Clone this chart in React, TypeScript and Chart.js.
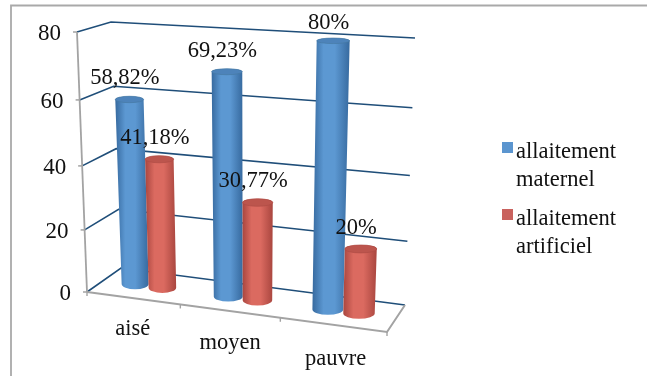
import { useEffect, useRef } from "react";
import { Chart, registerables } from "chart.js";

Chart.register(...registerables);

const categories = ["aisé", "moyen", "pauvre"];
const maternel = [58.82, 69.23, 80];
const artificiel = [41.18, 30.77, 20];
const seriesNames = ["allaitement maternel", "allaitement artificiel"];
const yTicks = [0, 20, 40, 60, 80];

const SERIF = '"Liberation Serif", serif';
const FONT = `22.5px ${SERIF}`;
const TICK_FONT = `23px ${SERIF}`;
const TEXT = "#111111";
const AXIS = "#a3a3a3";
const GRID = "#1f4e79";

type Pt = [number, number];

// Corners of the 3D box: floor and top, front (depth 0) and back (depth 1).
const FLOOR_FRONT: [Pt, Pt] = [[87, 292], [387, 332]];
const FLOOR_BACK: [Pt, Pt] = [[121, 268], [405, 305]];
const TOP_FRONT: [Pt, Pt] = [[77, 32], [397, 52]];
const TOP_BACK: [Pt, Pt] = [[111, 22], [415, 38]];

const mix = (a: Pt, b: Pt, t: number): Pt => [a[0] + (b[0] - a[0]) * t, a[1] + (b[1] - a[1]) * t];

// Maps a pixel from the flat Chart.js scales onto the box in perspective.
function project(chart: Chart, px: number, py: number, depth: number): Pt {
  const { left, right, top, bottom } = chart.chartArea;
  const u0 = (px - left) / (right - left);
  const v0 = (bottom - py) / (bottom - top);
  const u = u0 - 0.1 * u0 * (1 - u0);
  const v = v0 * (1 - 0.06 * (1 - v0));
  const floor = mix(mix(FLOOR_FRONT[0], FLOOR_FRONT[1], u), mix(FLOOR_BACK[0], FLOOR_BACK[1], u), depth);
  const roof = mix(mix(TOP_FRONT[0], TOP_FRONT[1], u), mix(TOP_BACK[0], TOP_BACK[1], u), depth);
  return mix(floor, roof, v);
}

function line(ctx: CanvasRenderingContext2D, pts: Pt[], color: string, width: number) {
  ctx.beginPath();
  pts.forEach((p, i) => (i ? ctx.lineTo(p[0], p[1]) : ctx.moveTo(p[0], p[1])));
  ctx.strokeStyle = color;
  ctx.lineWidth = width;
  ctx.stroke();
}

const PALETTES = [
  { edge: "#376a9f", mid: "#5c98d2", cap: "#4d83ba", rim: "#44779f", square: "#5b95cf" },
  { edge: "#a9463f", mid: "#db6a60", cap: "#bc554d", rim: "#ab4a43", square: "#c9625e" },
];

function drawCylinder(
  chart: Chart,
  el: { x: number; y: number; base: number; width: number },
  pal: (typeof PALETTES)[number],
) {
  const ctx = chart.ctx;
  const half = el.width / 2;
  const bl = project(chart, el.x - half, el.base, 0.5);
  const br = project(chart, el.x + half, el.base, 0.5);
  const tl = project(chart, el.x - half, el.y, 0.5);
  const tr = project(chart, el.x + half, el.y, 0.5);
  const bc = mix(bl, br, 0.5);
  const tc = mix(tl, tr, 0.5);
  const { top, bottom } = chart.chartArea;
  const capRy = 2.8 + (1.6 * (el.y - top)) / (bottom - top);
  const baseRy = 5.2;
  const bx = (br[0] - bl[0]) / 2;
  const tx = (tr[0] - tl[0]) / 2;

  const body = ctx.createLinearGradient(Math.min(bl[0], tl[0]), 0, Math.max(br[0], tr[0]), 0);
  body.addColorStop(0, pal.edge);
  body.addColorStop(0.3, pal.mid);
  body.addColorStop(0.6, pal.mid);
  body.addColorStop(1, pal.edge);

  ctx.beginPath();
  ctx.moveTo(tl[0], tc[1]);
  ctx.lineTo(bl[0], bc[1]);
  ctx.ellipse(bc[0], bc[1], bx, baseRy, 0, Math.PI, 0, true);
  ctx.lineTo(tr[0], tc[1]);
  ctx.ellipse(tc[0], tc[1], tx, capRy, 0, 0, Math.PI, true);
  ctx.closePath();
  ctx.fillStyle = body;
  ctx.fill();

  ctx.beginPath();
  ctx.ellipse(tc[0], tc[1], tx, capRy, 0, 0, Math.PI * 2);
  ctx.fillStyle = pal.cap;
  ctx.fill();
  ctx.strokeStyle = pal.rim;
  ctx.lineWidth = 0.6;
  ctx.stroke();
}

const perspectivePlugin = {
  id: "perspective",
  beforeDatasetsDraw(chart: Chart) {
    const ctx = chart.ctx;
    const y = chart.scales.y;
    const x = chart.scales.x;
    const { left, right, bottom } = chart.chartArea;
    ctx.save();
    ctx.lineCap = "butt";

    // Outer frame along the top and left
    line(ctx, [[11, 376], [11, 5.5], [647, 5.5]], "#a9a9a9", 1.8);

    // Gridlines across the side and back walls, with axis ticks and labels
    yTicks.forEach((t) => {
      const py = y.getPixelForValue(t);
      const a = project(chart, left, py, 0);
      const b = project(chart, left, py, 1);
      const c = project(chart, right, py, 1);
      line(ctx, [a, b, c], GRID, 1.6);
      line(ctx, [[a[0] - 4, a[1]], a], AXIS, 1.5);
      ctx.fillStyle = TEXT;
      ctx.font = TICK_FONT;
      ctx.textAlign = "right";
      ctx.textBaseline = "middle";
      ctx.fillText(String(t), a[0] - 16, a[1] + 2);
    });

    // Value axis and the front and right edges of the floor
    line(ctx, [project(chart, left, y.getPixelForValue(80), 0), project(chart, left, bottom, 0)], AXIS, 1.8);
    line(
      ctx,
      [project(chart, left, bottom, 0), project(chart, right, bottom, 0), project(chart, right, bottom, 1)],
      AXIS,
      2,
    );

    // Category ticks and labels hanging off the front edge of the floor
    const step = (right - left) / categories.length;
    for (let i = 0; i <= categories.length; i++) {
      const p = project(chart, left + step * i, bottom, 0);
      line(ctx, [p, [p[0], p[1] + 4]], AXIS, 1.4);
    }
    categories.forEach((name, i) => {
      const p = project(chart, x.getPixelForValue(i), bottom, 0);
      ctx.fillStyle = TEXT;
      ctx.font = FONT;
      ctx.textAlign = "center";
      ctx.textBaseline = "middle";
      ctx.fillText(name, p[0] + i * i * 0.7, p[1] + 31 + i * 1.5);
    });
    ctx.restore();
  },
  // The bars themselves are painted as cylinders once every dataset is laid out.
  beforeDatasetDraw() {
    return false;
  },
  afterDatasetsDraw(chart: Chart) {
    const ctx = chart.ctx;
    ctx.save();
    const metas = [chart.getDatasetMeta(0), chart.getDatasetMeta(1)];
    categories.forEach((_, i) => {
      metas.forEach((meta, d) => drawCylinder(chart, meta.data[i] as any, PALETTES[d]));
    });

    // Value labels above each cylinder, held clear of the top frame
    metas.forEach((meta, d) => {
      const values = chart.data.datasets[d].data as number[];
      meta.data.forEach((el: any, i) => {
        const p = project(chart, el.x, el.y, 0.5);
        ctx.fillStyle = TEXT;
        ctx.font = FONT;
        ctx.textAlign = "center";
        ctx.textBaseline = "middle";
        ctx.fillText(`${String(values[i]).replace(".", ",")}%`, p[0] - 4.5, Math.max(p[1] - 21, 23));
      });
    });

    // Legend, wrapped on two lines per entry
    seriesNames.forEach((name, d) => {
      const top = 142 + d * 67;
      ctx.fillStyle = PALETTES[d].square;
      ctx.fillRect(502, top, 11, 11);
      ctx.fillStyle = TEXT;
      ctx.font = FONT;
      ctx.textAlign = "left";
      ctx.textBaseline = "alphabetic";
      name.split(" ").forEach((word, l) => ctx.fillText(word, 516, top + 16 + l * 28));
    });
    ctx.restore();
  },
};

export default function App() {
  const ref = useRef<HTMLCanvasElement>(null);
  useEffect(() => {
    if (!ref.current) return;
    const chart = new Chart(ref.current, {
      type: "bar",
      data: {
        labels: categories,
        datasets: [
          { label: seriesNames[0], data: maternel, backgroundColor: PALETTES[0].square },
          { label: seriesNames[1], data: artificiel, backgroundColor: PALETTES[1].square },
        ],
      },
      options: {
        responsive: false,
        animation: false,
        categoryPercentage: 0.6,
        barPercentage: 1,
        plugins: { legend: { display: false }, tooltip: { enabled: false } },
        scales: {
          x: { display: false },
          y: { display: false, min: 0, max: 80, ticks: { stepSize: 20 } },
        },
      } as any,
      plugins: [perspectivePlugin],
    });
    return () => chart.destroy();
  }, []);
  return (
    <div style={{ position: "fixed", left: 0, top: 0, width: 647, height: 376, background: "#fff" }}>
      <canvas ref={ref} width={647} height={376} style={{ display: "block" }} />
    </div>
  );
}
